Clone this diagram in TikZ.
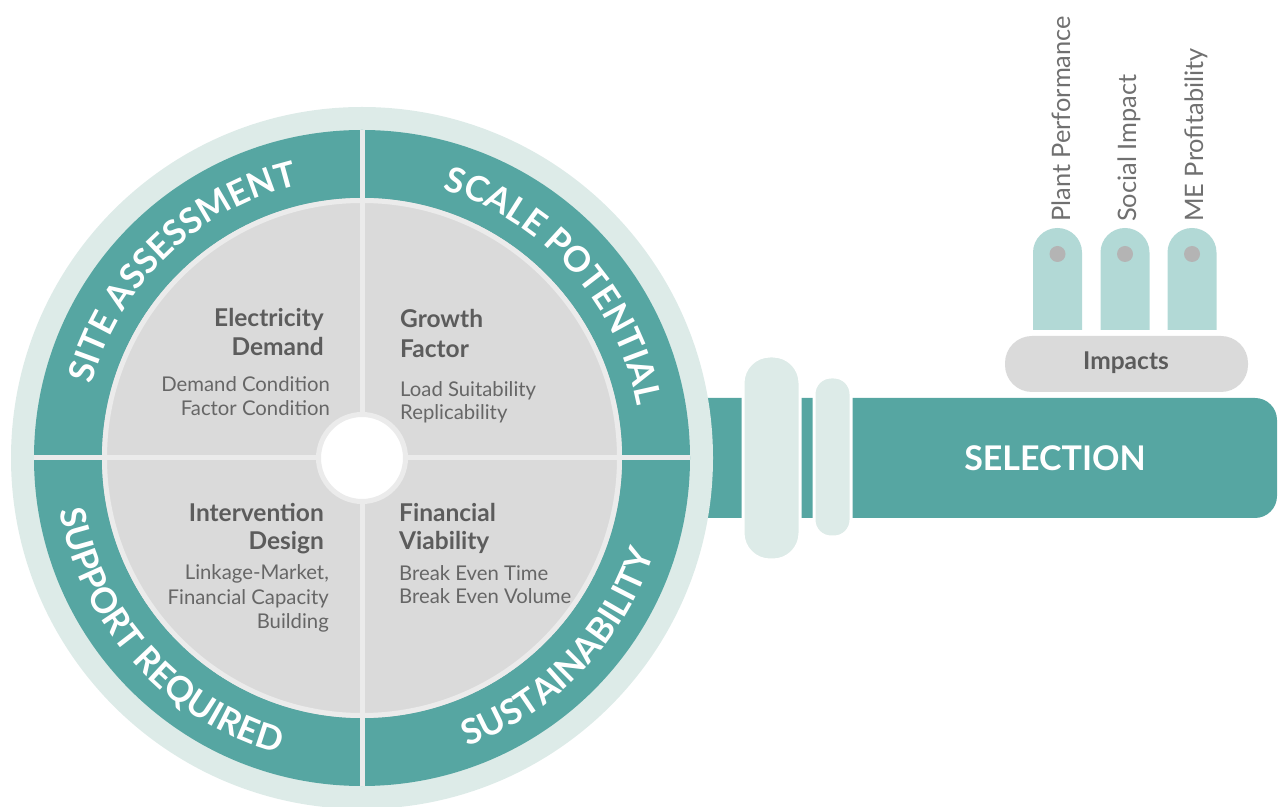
\documentclass[tikz,border=0pt]{standalone}
\usepackage{fontspec}
\setmainfont{Lato}
\usetikzlibrary{decorations.text}
\definecolor{tealmain}{HTML}{56A6A2}
\definecolor{lightring}{HTML}{DDEBE8}
\definecolor{grayfill}{HTML}{DADADA}
\definecolor{dividercol}{HTML}{EBEBEB}
\definecolor{darktext}{HTML}{5C5C5C}
\definecolor{subtext}{HTML}{666666}
\definecolor{tabcol}{HTML}{B2D9D6}
\definecolor{dotcol}{HTML}{B4B4B4}
\definecolor{labelcol}{HTML}{707070}
\newcommand\ringfont{\fontsize{35}{35}\selectfont\bfseries}
\begin{document}
\begin{tikzpicture}[x=1pt,y=1pt,
  titletext/.style={font=\fontsize{24.5}{28}\selectfont\bfseries, text=darktext, inner sep=0},
  subtextstyle/.style={font=\fontsize{20.3}{24}\selectfont, text=subtext, inner sep=0},
  vlabel/.style={font=\fontsize{25.4}{30}\selectfont, text=labelcol, rotate=90, anchor=base west, inner sep=0},
  pillbox/.style={fill=lightring, draw=white, line width=3pt, rounded corners=#1, inner sep=0},
  divline/.style={draw=dividercol, line width=5pt},
  ringlabel/.style={decorate, decoration={text along path, text align=center, text color=white, text={|\ringfont|#1}}}
]
\useasboundingbox (0,0) rectangle (1279,806);
\coordinate (C) at (362,348);

% selection bar
\fill[tealmain, rounded corners=22pt] (640,288) -- (1277,288) -- (1277,408) -- (640,408) -- cycle;

% rings
\fill[lightring] (C) circle[radius=351];
\fill[tealmain] (C) circle[radius=328];
\fill[grayfill] (C) circle[radius=260];
\draw[divline] (C) circle[radius=257.5];
\draw[divline] ([yshift=-328]C) coordinate (vb) -- ([yshift=328]C) coordinate (vt);
\draw[divline] ([xshift=-328]C) coordinate (hl) -- ([xshift=328]C) coordinate (hr);
\filldraw[fill=white, draw=dividercol, line width=5pt] (C) circle[radius=43.5];

% ring labels
\path[ringlabel={SITE ASSESSMENT}] ([shift={(178:280)}]C) arc[start angle=178, end angle=90, radius=280];
\path[ringlabel={SCALE POTENTIAL}] ([shift={(84:280)}]C) arc[start angle=84, end angle=0, radius=280];
\path[ringlabel={SUPPORT REQUIRED}] ([shift={(180:307)}]C) arc[start angle=180, end angle=264, radius=307];
\path[ringlabel={SUSTAINABILITY}] ([shift={(272:307)}]C) arc[start angle=272, end angle=360, radius=307];

% quadrant texts
\node[titletext, anchor=base east] (ed1) at (324,479) {Electricity};
\node[titletext, anchor=base east] (ed2) at (324,450) {Demand};
\node[subtextstyle, anchor=base east] (ed3) at (330,414) {Demand Condition};
\node[subtextstyle, anchor=base east] (ed4) at (330,390) {Factor Condition};

\node[titletext, anchor=base west] (gf1) at (400,478) {Growth};
\node[titletext, anchor=base west] (gf2) at (400,448) {Factor};
\node[subtextstyle, anchor=base west] (gf3) at (400,409) {Load Suitability};
\node[subtextstyle, anchor=base west] (gf4) at (400,386) {Replicability};

\node[titletext, anchor=base east] (id1) at (324,284) {Intervention};
\node[titletext, anchor=base east] (id2) at (324,256) {Design};
\node[subtextstyle, anchor=base east] (id3) at (329,226) {Linkage-Market,};
\node[subtextstyle, anchor=base east] (id4) at (329,201) {Financial Capacity};
\node[subtextstyle, anchor=base east] (id5) at (329,177) {Building};

\node[titletext, anchor=base west] (fv1) at (399,284) {Financial};
\node[titletext, anchor=base west] (fv2) at (399,256) {Viability};
\node[subtextstyle, anchor=base west] (fv3) at (399,225) {Break Even Time};
\node[subtextstyle, anchor=base west] (fv4) at (399,202) {Break Even Volume};

% pills on the bar
\node[pillbox=27pt, minimum width=57, minimum height=204] (p1) at (771.5,348) {};
\node[pillbox=17pt, minimum width=37, minimum height=160] (p2) at (832.5,349) {};

% selection text
\node[font=\fontsize{34}{34}\selectfont\bfseries, text=white, inner sep=0] (sel) at (1055,348) {SELECTION};

% impacts
\node[fill=grayfill, rounded corners=27pt, minimum width=243, minimum height=56, inner sep=0] (imp) at (1126.5,442) {};
\node[titletext, anchor=base] (impt) at (1126,436) {Impacts};

% tabs
\foreach \cx/\nm in {1057.5/t1, 1125/t2, 1192/t3}{
  \fill[tabcol] (\cx-24.5,476) -- (\cx-24.5,553.5) arc[start angle=180, end angle=0, radius=24.5] -- (\cx+24.5,476) -- cycle;
  \fill[dotcol] (\cx,552) circle[radius=8];
}

% vertical labels
\node[vlabel] (l1) at (1070,584) {Plant Performance};
\node[vlabel] (l2) at (1136,584) {Social Impact};
\node[vlabel] (l3) at (1203,584) {ME Profitability};
\end{tikzpicture}
\end{document}
